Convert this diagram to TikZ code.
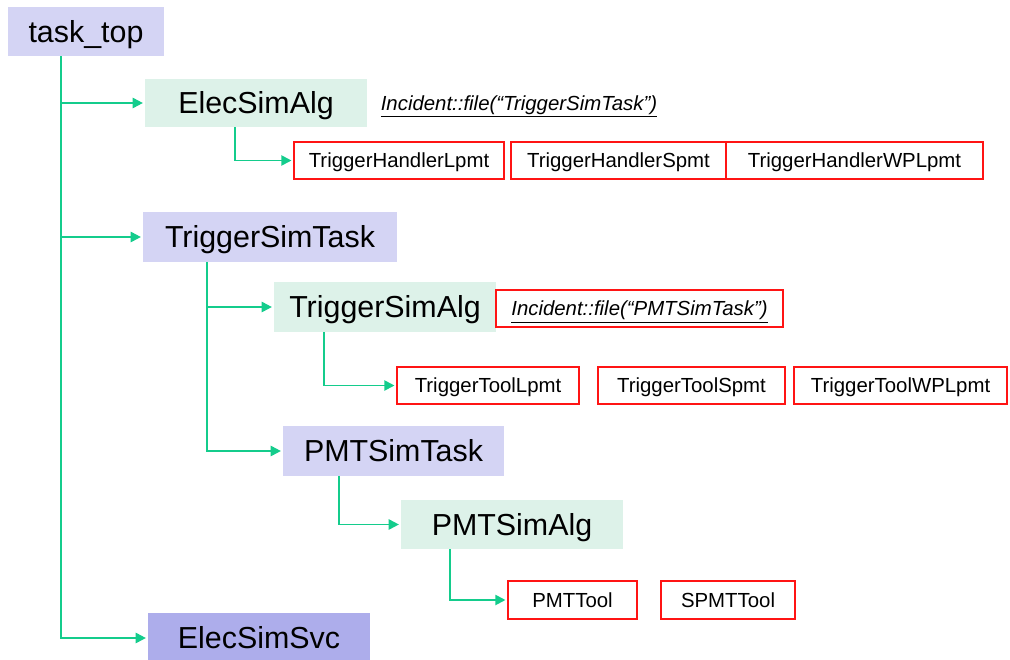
\documentclass[tikz,border=0pt]{standalone}
\usepackage{fontspec}
\setmainfont{Liberation Sans}
\usetikzlibrary{arrows.meta,calc}
\definecolor{taskfill}{RGB}{212,212,244}
\definecolor{svcfill}{RGB}{173,173,235}
\definecolor{algfill}{RGB}{221,242,233}
\definecolor{linkgreen}{RGB}{20,204,140}
\definecolor{toolred}{RGB}{255,20,20}
\tikzset{
  big/.style={inner sep=0pt, minimum height=1cm, text height=15.7pt, text depth=3.7pt, font=\fontsize{17.3}{20}\selectfont},
  task/.style={big, fill=taskfill},
  svc/.style={big, fill=svcfill},
  alg/.style={big, fill=algfill},
  tool/.style={draw=toolred, line width=0.9pt, inner sep=0pt, minimum height=0.74cm, text height=10.5pt, text depth=2.5pt, font=\fontsize{11.6}{14}\selectfont},
  note/.style={inner sep=0pt, text height=10.5pt, text depth=2.5pt, font=\fontsize{11.6}{14}\selectfont\itshape},
  link/.style={draw=linkgreen, line width=1.1pt, shorten >=1pt, -{Triangle[length=5.8pt,width=5.8pt]}},
}
\begin{document}
\begin{tikzpicture}[x=0.02cm,y=-0.02cm]
\useasboundingbox (0,0) rectangle (1010,659);
% tasks and algorithms
\node[task,minimum width=3.12cm,minimum height=0.98cm] (task_top) at (86,31.5) {task\_top};
\node[alg,minimum width=4.44cm,minimum height=0.96cm] (ElecSimAlg) at (256,103) {ElecSimAlg};
\node[task,minimum width=5.08cm] (TriggerSimTask) at (270,237) {TriggerSimTask};
\node[alg,minimum width=4.44cm] (TriggerSimAlg) at (385,307) {TriggerSimAlg};
\node[task,minimum width=4.42cm] (PMTSimTask) at (393.5,451) {PMTSimTask};
\node[alg,minimum width=4.44cm,minimum height=0.98cm] (PMTSimAlg) at (512,524.5) {PMTSimAlg};
\node[svc,minimum width=4.44cm] (ElecSimSvc) at (259,638) {ElecSimSvc};
% incidents
\node[note] (incElec) at (519,103) {\underline{Incident::file(“TriggerSimTask”)}};
\node[note,draw=toolred,line width=0.9pt,minimum width=5.74cm,minimum height=0.74cm] (incTrig) at (639.5,308.5) {\underline{Incident::file(“PMTSimTask”)}};
% tools
\node[tool,minimum width=4.2cm] (THLpmt) at (399,160.5) {TriggerHandlerLpmt};
\node[tool,minimum width=4.3cm] (THSpmt) at (618.5,160.5) {TriggerHandlerSpmt};
\node[tool,minimum width=5.14cm] (THWPLpmt) at (854.5,160.5) {TriggerHandlerWPLpmt};
\node[tool,minimum width=3.64cm] (TTLpmt) at (488,385.5) {TriggerToolLpmt};
\node[tool,minimum width=3.74cm] (TTSpmt) at (691.5,385.5) {TriggerToolSpmt};
\node[tool,minimum width=4.26cm] (TTWPLpmt) at (900.5,385.5) {TriggerToolWPLpmt};
\node[tool,minimum width=2.58cm,minimum height=0.76cm] (PMTTool) at (572.5,600) {PMTTool};
\node[tool,minimum width=2.68cm,minimum height=0.76cm] (SPMTTool) at (728,600) {SPMTTool};
% connectors
\draw[link] ($(task_top.south)+(-25,0)$) |- (ElecSimAlg.west);
\draw[link] ($(task_top.south)+(-25,0)$) |- (TriggerSimTask.west);
\draw[link] ($(task_top.south)+(-25,0)$) |- (ElecSimSvc.west);
\draw[link] ($(ElecSimAlg.south)+(-21,0)$) |- (THLpmt.west);
\draw[link] ($(TriggerSimTask.south)+(-63,0)$) |- (TriggerSimAlg.west);
\draw[link] ($(TriggerSimTask.south)+(-63,0)$) |- (PMTSimTask.west);
\draw[link] ($(TriggerSimAlg.south)+(-61,0)$) |- (TTLpmt.west);
\draw[link] ($(PMTSimTask.south)+(-54.5,0)$) |- (PMTSimAlg.west);
\draw[link] ($(PMTSimAlg.south)+(-62,0)$) |- (PMTTool.west);
\end{tikzpicture}
\end{document}
